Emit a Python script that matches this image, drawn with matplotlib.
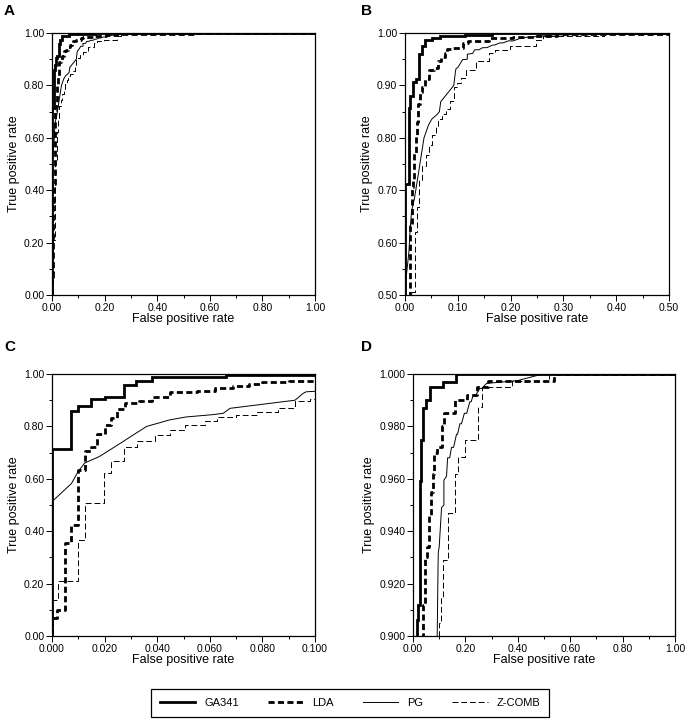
import numpy as np
import matplotlib
matplotlib.use("Agg")
import matplotlib.pyplot as plt
from matplotlib.ticker import MultipleLocator, FormatStrFormatter

plt.rcParams['font.family'] = ['Liberation Sans', 'DejaVu Sans']

# ROC curves (false positive rate, true positive rate)
ga341_fpr = [0, 0, 0.0074, 0.0099, 0.015, 0.020, 0.0274, 0.032, 0.038, 0.051, 0.066, 0.114, 0.165, 1.0]
ga341_tpr = [0, 0.712, 0.857, 0.879, 0.906, 0.912, 0.959, 0.975, 0.987, 0.990, 0.995, 0.997, 1.0, 1.0]

lda_fpr = [0, 0, 0.002, 0.0048, 0.0074, 0.0097, 0.0125, 0.015, 0.0173, 0.020, 0.0224, 0.0249, 0.0277,
           0.033, 0.038, 0.045, 0.055, 0.062, 0.069, 0.075, 0.080, 0.090, 0.109, 0.119, 0.160, 0.205,
           0.246, 0.287, 0.54, 1.0]
lda_tpr = [0, 0.067, 0.099, 0.356, 0.422, 0.632, 0.707, 0.72, 0.771, 0.805, 0.831, 0.865, 0.888,
           0.896, 0.912, 0.93, 0.934, 0.946, 0.955, 0.962, 0.970, 0.972, 0.980, 0.985, 0.990, 0.992,
           0.995, 0.9975, 1.0, 1.0]

# PG is drawn as a plain polyline (it is not a clean staircase at low FPR)
pg_fpr = [0, 0, 0.0074, 0.0099, 0.0124, 0.018, 0.0245, 0.031, 0.036, 0.0448, 0.051, 0.0613, 0.0651,
          0.0677, 0.0829, 0.0924, 0.0955, 0.0966, 0.100, 0.109, 0.118, 0.118, 0.128, 0.132, 0.140,
          0.147, 0.155, 0.166, 0.170, 0.179, 0.185, 0.196, 0.205, 0.217, 0.222, 0.230, 0.240,
          0.255, 0.262, 0.281, 0.40, 0.495, 1.0]
pg_tpr = [0, 0.513, 0.582, 0.627, 0.66, 0.685, 0.726, 0.768, 0.80, 0.825, 0.836, 0.845, 0.85,
          0.869, 0.888, 0.90, 0.926, 0.932, 0.934, 0.949, 0.950, 0.9595, 0.961, 0.968, 0.968,
          0.972, 0.972, 0.977, 0.977, 0.981, 0.981, 0.985, 0.985, 0.9894, 0.9894, 0.992, 0.992,
          0.9945, 0.9945, 0.9964, 0.9975, 1.0, 1.0]

zcomb_fpr = [0, 0, 0.0022, 0.0099, 0.0125, 0.0196, 0.0224, 0.0274, 0.0325, 0.039, 0.045, 0.0506, 0.058,
             0.0626, 0.070, 0.078, 0.086, 0.0924, 0.098, 0.107, 0.116, 0.135, 0.160, 0.170, 0.198,
             0.249, 0.262, 0.376, 0.52, 1.0]
zcomb_tpr = [0, 0.138, 0.21, 0.366, 0.506, 0.621, 0.668, 0.72, 0.746, 0.767, 0.786, 0.805, 0.82,
             0.835, 0.845, 0.855, 0.87, 0.897, 0.905, 0.915, 0.929, 0.947, 0.962, 0.9685, 0.975,
             0.9875, 0.995, 0.9975, 1.0, 1.0]

series_names = ["GA341", "LDA", "PG", "Z-COMB"]

# panel: letter, xlim, ylim, x major/minor, y major/minor, x fmt, y fmt
panels = [
    ("A", (0, 1.0), (0, 1.0), 0.2, 0.1, 0.2, 0.1, "%.2f", "%.2f"),
    ("B", (0, 0.5), (0.5, 1.0), 0.1, 0.05, 0.1, 0.05, "%.2f", "%.2f"),
    ("C", (0, 0.1), (0, 1.0), 0.02, 0.01, 0.2, 0.1, "%.3f", "%.2f"),
    ("D", (0, 1.0), (0.9, 1.0), 0.2, 0.1, 0.02, 0.01, "%.2f", "%.3f"),
]
rects = [
    (52, 33, 315, 295),
    (405, 33, 669, 295),
    (52, 374, 315, 636),
    (413, 374, 675, 636),
]
letter_pos = [(4, 4), (361, 4), (4, 340), (361, 340)]

W, H = 686, 720
fig = plt.figure(figsize=(W / 100, H / 100), dpi=100)

handles = None
for (name, xl, yl, xmaj, xmin, ymaj, ymin, xf, yf), (l, t, r, b), (lx, ly) in zip(panels, rects, letter_pos):
    ax = fig.add_axes([l / W, 1 - b / H, (r - l) / W, (b - t) / H])
    h1, = ax.plot(ga341_fpr, ga341_tpr, color='black', lw=2.0, drawstyle='steps-post', solid_joinstyle='miter')
    h2, = ax.plot(lda_fpr, lda_tpr, color='black', lw=2.0, ls=(0, (2.2, 1.2)), drawstyle='steps-post')
    h3, = ax.plot(pg_fpr, pg_tpr, color='black', lw=0.7)
    h4, = ax.plot(zcomb_fpr, zcomb_tpr, color='black', lw=0.7, ls=(0, (6, 3)), drawstyle='steps-post')
    handles = [h1, h2, h3, h4]
    ax.set_xlim(*xl)
    ax.set_ylim(*yl)
    ax.xaxis.set_major_locator(MultipleLocator(xmaj))
    ax.xaxis.set_minor_locator(MultipleLocator(xmin))
    ax.yaxis.set_major_locator(MultipleLocator(ymaj))
    ax.yaxis.set_minor_locator(MultipleLocator(ymin))
    ax.xaxis.set_major_formatter(FormatStrFormatter(xf))
    ax.yaxis.set_major_formatter(FormatStrFormatter(yf))
    ax.tick_params(which='both', direction='out', labelsize=7.5, width=0.7, pad=1.5)
    ax.tick_params(which='major', length=4)
    ax.tick_params(which='minor', length=2.5)
    for s in ax.spines.values():
        s.set_linewidth(0.9)
    ax.set_xlabel("False positive rate", fontsize=9, labelpad=0)
    ax.set_ylabel("True positive rate", fontsize=9, labelpad=3)
    fig.text(lx / W, 1 - ly / H, name, fontsize=11, fontweight='bold', ha='left', va='top')

leg = fig.legend(handles, series_names, loc='center', bbox_to_anchor=(350 / W, 1 - 703 / H),
                 ncol=4, fontsize=8, handlelength=3.2, columnspacing=2.6, handletextpad=0.8,
                 fancybox=False, edgecolor='black', framealpha=1, borderpad=0.8)
leg.get_frame().set_linewidth(0.9)

fig.savefig("out.png", dpi=100)
